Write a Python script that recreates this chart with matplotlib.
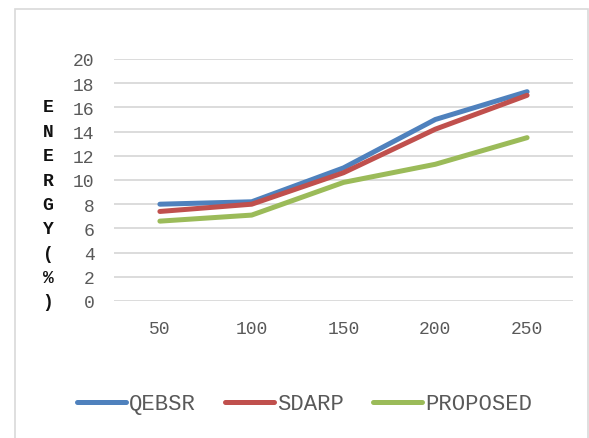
import numpy as np
import matplotlib.pyplot as plt
from matplotlib.patches import Rectangle

# Energy consumption (%) versus number of nodes
nodes = ['50', '100', '150', '200', '250']
qebsr = [8.0, 8.2, 11.0, 15.0, 17.3]
sdarp = [7.4, 8.0, 10.6, 14.2, 17.0]
proposed = [6.6, 7.1, 9.8, 11.3, 13.5]

series_names = ['QEBSR', 'SDARP', 'PROPOSED']
colors = ['#4F81BD', '#C0504D', '#9BBB59']
ylabel_chars = ['E', 'N', 'E', 'R', 'G', 'Y', '(', '%', ')']

plt.rcParams['font.family'] = ['Liberation Mono', 'DejaVu Sans']

fig = plt.figure(figsize=(5.89, 4.39), dpi=100)
W, H = 589, 439

# chart border
fig.patches.append(Rectangle((15 / W, -0.01), (588 - 15) / W, 1 - 10 / H + 0.01,
                             transform=fig.transFigure, fill=False,
                             edgecolor='#D9D9D9', linewidth=1.2))

ax = fig.add_axes([114 / W, 1 - 302 / H, (573 - 114) / W, (302 - 60) / H])
x = np.arange(len(nodes))
for vals, name, c in zip([qebsr, sdarp, proposed], series_names, colors):
    ax.plot(x, vals, color=c, linewidth=3.6, solid_capstyle='round',
            solid_joinstyle='round', label=name)

ax.set_xlim(-0.5, len(nodes) - 0.5)
ax.set_ylim(0, 20)
ax.set_yticks(np.arange(0, 21, 2))
ax.set_xticks(x)
ax.set_xticklabels(nodes)
ax.yaxis.grid(True, color='#D9D9D9', linewidth=1.3)
ax.set_axisbelow(True)
for s in ax.spines.values():
    s.set_visible(False)
ax.tick_params(length=0, labelsize=13, colors='#595959', pad=14)
ax.tick_params(axis='x', pad=14)

# stacked vertical axis title
y0, y1 = 108, 303
for i, ch in enumerate(ylabel_chars):
    yy = y0 + (y1 - y0) * i / (len(ylabel_chars) - 1)
    fig.text(48 / W, 1 - yy / H, ch, ha='center', va='center',
             fontsize=13, color='#111111', fontweight='bold')

fig.legend(loc='center', bbox_to_anchor=(0.517, 1 - 405 / H), ncol=3,
           frameon=False, fontsize=16, handlelength=2.2, handletextpad=0.15,
           columnspacing=1.3, labelcolor='#595959')

fig.savefig('out.png', dpi=100)
